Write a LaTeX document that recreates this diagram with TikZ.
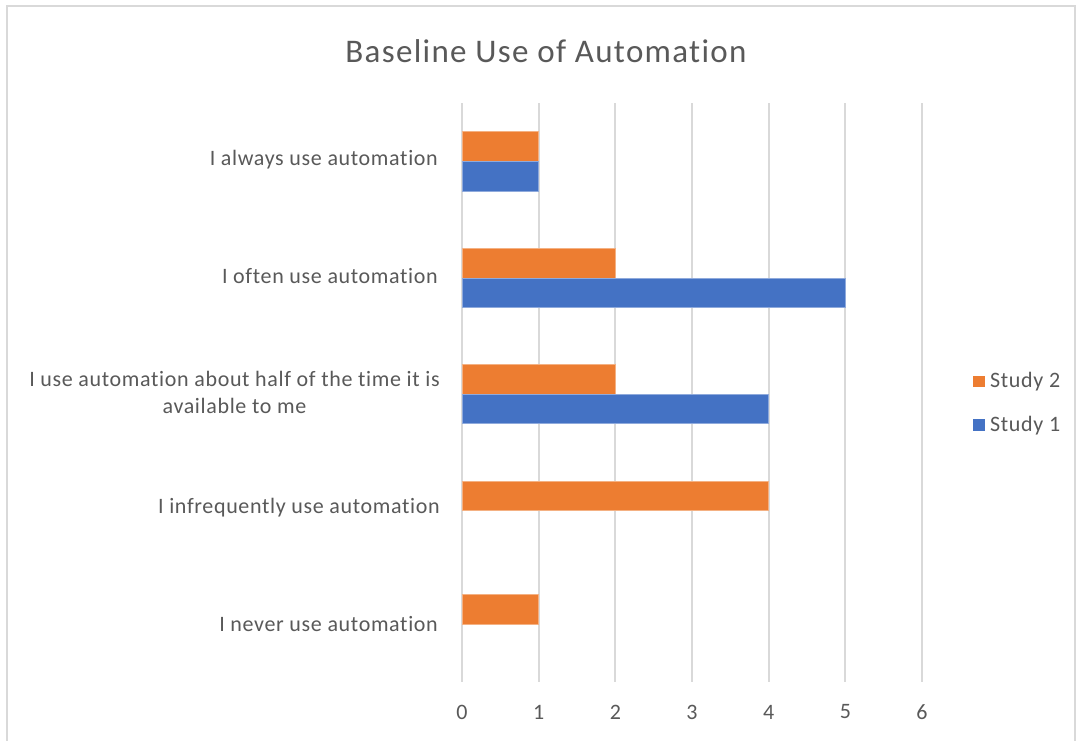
\documentclass[tikz,border=0pt]{standalone}
\usepackage{fontspec}
\setmainfont{Carlito}
\newfontfamily\spacedfont[LetterSpace=3,Ligatures={NoCommon,NoContextual}]{Carlito}
\newfontfamily\titlefont[LetterSpace=4,Ligatures={NoCommon,NoContextual}]{Carlito}
\definecolor{txt}{HTML}{595959}
\definecolor{grid}{HTML}{D9D9D9}
\definecolor{frame}{HTML}{D9D9D9}
\definecolor{orng}{HTML}{ED7D31}
\definecolor{blu}{HTML}{4472C4}
\begin{document}
\begin{tikzpicture}[x=1pt,y=-1pt,
  catlabel/.style={anchor=east,inner sep=0pt,text=txt,font=\spacedfont\fontsize{22}{27}\selectfont,align=center},
  ticklabel/.style={anchor=center,inner sep=0pt,text=txt,font=\spacedfont\fontsize{22}{24}\selectfont},
  legtext/.style={anchor=base west,inner sep=0pt,text=txt,font=\spacedfont\fontsize{22}{24}\selectfont},
  gridline/.style={draw=grid,line width=2pt},
  barO/.style={fill=orng,draw=orng!60!white,line width=0.6pt},
  barB/.style={fill=blu,draw=blu!60!white,line width=0.6pt}]
\useasboundingbox (0,0) rectangle (1077,740);
\fill[white] (0,0) rectangle (1077,740);
\draw[frame,line width=2pt] (7,760) -- (7,6) -- (1075,6) -- (1075,760);
% title
\node[text=txt,font=\titlefont\fontsize{33}{38}\selectfont,inner sep=0pt] (title) at (546,51) {Baseline Use of Automation};
% gridlines
\foreach \v in {0,...,6}{
  \draw[gridline] ({462+\v*76.67},103) -- ({462+\v*76.67},682);
  \node[ticklabel] (t\v) at ({462+\v*76.67},712) {\v};
}
% bars
\newcommand{\bx}[1]{462+#1*76.67}
% always
\filldraw[barO] (462,131) rectangle ({\bx{1}},161);
\filldraw[barB] (462,161) rectangle ({\bx{1}},191);
% often
\filldraw[barO] (462,248) rectangle ({\bx{2}},278);
\filldraw[barB] (462,278) rectangle ({\bx{5}},307);
% half
\filldraw[barO] (462,364) rectangle ({\bx{2}},394);
\filldraw[barB] (462,394) rectangle ({\bx{4}},423);
% infrequently
\filldraw[barO] (462,481) rectangle ({\bx{4}},510);
% never
\filldraw[barO] (462,594) rectangle ({\bx{1}},624);
% category labels
\node[catlabel] (c1) at (438,160) {I always use automation};
\node[catlabel] (c2) at (438,276) {I often use automation};
\node[catlabel] (c3) at (440,392) {I use automation about half of the time it is\\available to me};
\node[catlabel] (c4) at (440,508) {I infrequently use automation};
\node[catlabel] (c5) at (438,624) {I never use automation};
% legend
\fill[orng] (973,376) rectangle (985,387);
\node[legtext] (l2) at (990,387) {Study 2};
\fill[blu] (973,419) rectangle (985,431);
\node[legtext] (l1) at (990,431) {Study 1};
\end{tikzpicture}
\end{document}
